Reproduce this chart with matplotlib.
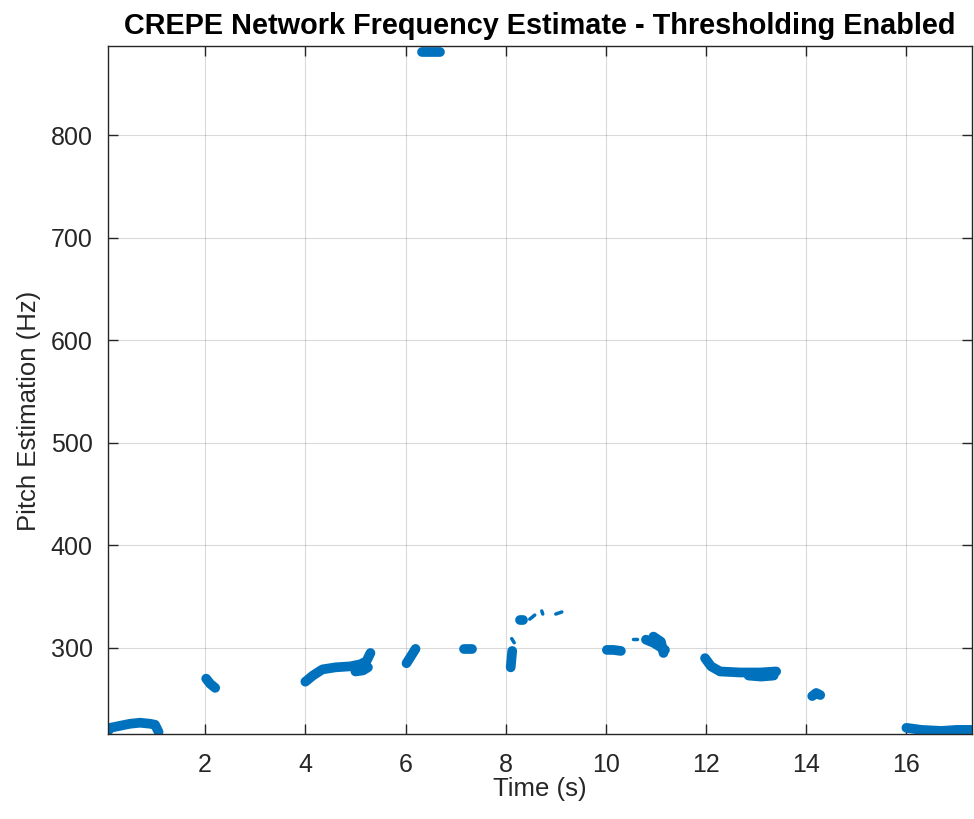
import matplotlib
matplotlib.use("Agg")
import matplotlib.pyplot as plt

# CREPE pitch estimates (time in s, pitch in Hz), one list per voiced run
seg_times = [
    [0.05, 0.10, 0.30, 0.50, 0.70, 0.90, 1.00, 1.07],
    [2.02, 2.10, 2.20],
    [4.00, 4.15, 4.34, 4.60, 4.90, 5.10, 5.22, 5.30],
    [5.00, 5.15, 5.25],
    [6.02, 6.20],
    [7.17, 7.33],
    [8.10, 8.13],
    [8.28, 8.34],
    [10.02, 10.15, 10.30],
    [10.80, 10.95, 11.05, 11.18],
    [10.95, 11.10, 11.15],
    [11.98, 12.10, 12.28, 12.68, 13.08, 13.40],
    [12.85, 13.10, 13.35],
    [14.12, 14.20, 14.28],
    [16.00, 16.30, 16.70, 17.00, 17.35],
    [6.32, 6.68],
]
seg_pitch = [
    [218, 222, 224, 226, 227, 226, 225, 218],
    [270, 265, 261],
    [267, 273, 279, 281, 282, 284, 287, 295],
    [277, 278, 281],
    [285, 299],
    [299, 299],
    [281, 297],
    [327, 327],
    [298, 298, 297],
    [308, 305, 302, 298],
    [311, 306, 295],
    [290, 282, 277, 276, 276, 277],
    [273, 272, 273],
    [253, 256, 254],
    [222, 220, 219, 220, 220],
    [881, 881],
]

# short faint fragments between 8 s and 11 s
frag_times = [[8.12, 8.17], [8.48, 8.58], [8.72, 8.74], [9.00, 9.12], [10.55, 10.62]]
frag_pitch = [[309, 305], [328, 332], [336, 333], [333, 335], [309, 309]]

plt.rcParams.update({
    "font.family": ["Liberation Sans", "DejaVu Sans"],
    "font.size": 18,
})

BLUE = "#0072BD"
DARK = "#262626"

fig = plt.figure(figsize=(9.74, 8.19), dpi=100)
ax = fig.add_axes([108 / 974, 85 / 819, 864 / 974, 688 / 819])

for t, f in zip(seg_times, seg_pitch):
    ax.plot(t, f, "-", color=BLUE, linewidth=7, solid_capstyle="round",
            solid_joinstyle="round")
for t, f in zip(frag_times, frag_pitch):
    ax.plot(t, f, "-", color=BLUE, linewidth=2.5, solid_capstyle="round")

ax.set_xlim(0.06, 17.31)
ax.set_ylim(216, 887)
ax.set_xticks([2, 4, 6, 8, 10, 12, 14, 16])
ax.set_yticks([300, 400, 500, 600, 700, 800])

ax.grid(True, color="#000000", alpha=0.15, linewidth=0.8)
ax.set_axisbelow(True)
ax.tick_params(direction="in", top=True, right=True, length=7, width=1.0,
               colors=DARK, labelsize=18)
ax.tick_params(axis="y", pad=11)
ax.tick_params(axis="x", pad=14)
for sp in ax.spines.values():
    sp.set_color(DARK)
    sp.set_linewidth(1.0)

ax.set_title("CREPE Network Frequency Estimate - Thresholding Enabled",
             fontsize=20.8, fontweight="bold", color="#000000", pad=9)
ax.set_xlabel("Time (s)", fontsize=18.5, color=DARK, labelpad=0)
ax.set_ylabel("Pitch Estimation (Hz)", fontsize=18.5, color=DARK)
ax.yaxis.set_label_coords(-0.078, 0.47)

fig.savefig("out.png", dpi=100, facecolor="white")
